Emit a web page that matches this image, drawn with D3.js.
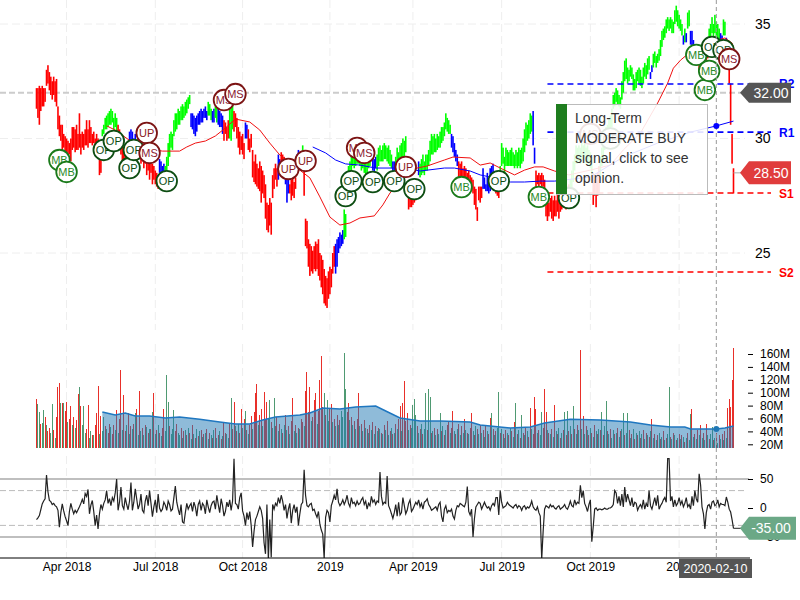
<!DOCTYPE html>
<html>
<head>
<meta charset="utf-8">
<script src="https://cdnjs.cloudflare.com/ajax/libs/d3/7.8.5/d3.min.js"></script>
<style>
html, body { margin: 0; padding: 0; background: #fff; }
svg { display: block; font-family: "Liberation Sans", Arial, sans-serif; }
</style>
</head>
<body>
<div id="chart"></div>
<script>
// price bars as [high, low], one per trading day
var priceBars = [
[32.2,31.3],[32.2,30.9],[32.3,30.6],[32.2,31.2],[32.3,31.4],[32.2,31.4],[32.2,31.6],[33.0,32.3],[33.2,32.4],[32.9,32.1],[32.7,31.9],[32.5,31.7],[32.7,31.9],[32.5,31.6],[32.6,31.4],
[31.4,30.4],[31.0,30.1],[30.6,29.9],[30.6,29.3],[30.2,29.6],[30.1,29.2],[30.0,29.4],[29.9,29.1],[29.8,29.3],[30.0,29.0],
[30.5,29.5],[30.5,29.6],[30.4,29.4],[30.6,29.5],[30.2,29.5],[31.1,29.6],[30.2,29.3],[30.3,29.6],[30.2,29.5],[30.4,29.7],
[30.8,29.7],[30.4,29.6],[30.8,29.8],[30.5,29.8],[30.2,29.7],[30.3,29.8],[30.0,29.7],[30.2,29.6],[30.0,29.8],[29.1,28.4],[29.2,28.5],
[30.4,30.1],[30.6,30.2],[30.9,30.4],[31.0,30.4],[31.1,30.5],[31.2,30.6],[31.3,30.6],[31.2,30.7],[30.9,30.4],[31.1,30.5],[30.9,30.2],
[30.6,29.9],[30.4,29.5],[30.0,29.3],[29.8,29.0],[29.6,28.9],[29.5,28.7],[29.8,28.9],[29.8,29.1],
[30.3,29.6],[30.4,29.8],[30.3,29.7],[30.0,29.3],[30.2,29.5],
[29.9,29.0],[30.0,29.1],[29.9,29.3],[29.7,28.9],[29.6,29.0],[29.5,28.7],[29.4,28.9],[29.2,28.4],[29.1,28.6],[29.2,28.2],[29.0,28.5],[28.9,28.0],[28.8,28.2],[28.6,28.0],[28.5,27.9],[28.4,27.8],
[29.1,28.5],[29.0,28.4],[28.8,28.2],[28.9,28.3],
[28.8,28.1],[29.2,28.4],[29.8,28.8],[30.2,29.2],[30.3,29.6],[30.2,29.5],
[30.8,30.1],[31.1,30.3],[31.1,30.4],[31.3,30.6],[31.2,30.6],[31.4,30.8],[31.5,30.8],[31.4,30.9],[31.6,31.0],[31.7,31.1],[31.8,31.3],[31.9,31.5],
[31.1,30.5],[31.1,30.4],[31.0,30.2],[30.9,30.1],[31.0,30.3],[31.1,30.6],[31.2,30.6],[31.3,30.7],[31.2,30.7],[31.3,30.9],[31.4,30.9],[31.2,30.8],
[31.6,31.0],[31.5,31.0],[31.3,30.8],
[31.2,30.7],[31.3,30.7],
[31.4,30.9],[31.4,30.7],
[31.3,30.6],[31.2,30.5],[31.1,30.5],[31.0,30.2],
[30.8,29.9],[30.7,30.2],[30.5,29.9],[30.8,30.0],
[31.6,30.0],[31.7,29.9],[31.6,30.4],
[31.2,30.3],[31.1,30.5],[30.9,30.0],[30.5,29.6],[30.3,29.3],[30.1,29.5],[30.2,29.3],[29.8,29.1],
[30.7,30.0],[30.6,30.0],
[30.4,29.5],[30.0,29.4],[30.2,29.6],
[29.5,28.3],[29.0,28.1],[29.3,28.0],[28.9,27.9],
[28.7,27.8],[29.0,27.7],[28.8,27.2],[28.6,27.6],[28.4,27.4],
[28.0,26.5],[27.2,26.0],[27.1,25.9],[27.4,26.2],[27.2,25.8],
[28.4,27.4],[28.7,27.8],[28.9,28.2],[28.7,27.9],
[29.3,28.2],[29.1,28.4],
[29.4,28.5],[29.3,28.4],[29.2,28.6],
[29.0,28.0],[28.8,27.2],[28.6,27.6],
[28.0,27.6],[28.2,27.3],[28.4,27.5],[28.1,27.4],[28.3,27.8],
[29.3,28.5],[29.5,28.7],[29.4,28.8],[29.4,28.9],
[29.7,29.2],
[29.5,27.5],[26.5,25.3],[26.4,25.2],
[25.6,24.4],[25.4,24.0],[25.3,24.2],[25.1,24.1],[25.3,24.3],[25.5,24.2],[25.4,24.3],[25.6,24.0],
[25.0,23.8],[24.9,23.5],[24.7,23.2],[24.3,22.8],[24.0,22.7],[23.9,22.6],
[24.2,23.0],[24.4,23.2],[24.3,23.5],[25.0,24.1],[25.3,24.4],
[25.4,24.1],[25.6,24.4],[25.7,25.0],[25.9,25.2],[25.8,25.3],[26.0,25.4],
[26.9,25.6],[26.7,25.7],
[28.4,27.5],[28.8,27.8],[29.0,28.0],[29.3,28.4],[29.6,28.8],[29.5,28.7],[29.4,28.8],[29.5,28.9],[29.6,28.9],[29.4,28.8],
[29.3,28.6],[29.4,28.7],[29.1,28.5],[29.0,28.4],[29.2,28.5],[29.3,28.7],[29.4,28.8],[29.6,29.0],
[29.2,28.6],[29.1,28.5],[29.2,28.7],
[29.3,28.6],[29.6,28.8],[29.7,29.0],[29.5,29.0],[29.7,29.0],[29.8,29.1],[29.7,29.1],[29.6,29.0],[29.7,28.9],[29.5,28.8],[29.3,28.7],
[29.0,28.5],[29.0,28.3],
[29.2,28.5],[29.6,28.7],[29.4,28.8],[29.7,29.0],[29.8,28.9],[30.0,29.0],[29.9,29.2],[30.1,29.4],
[28.0,27.5],[27.7,26.9],[27.6,27.0],[27.5,27.0],[27.7,27.1],[27.6,27.2],[27.9,27.3],[28.1,27.5],
[29.0,28.4],
[28.9,28.3],[29.1,28.4],[29.3,28.5],[29.0,28.4],[29.3,28.6],[29.3,28.6],
[29.5,28.8],[29.9,29.0],[30.2,29.3],[30.1,29.3],[30.2,29.4],[30.0,29.4],[30.2,29.5],[30.1,29.6],[30.3,29.6],[30.5,29.8],[30.5,29.9],[30.7,30.1],
[31.1,30.4],[30.9,30.3],[30.8,30.2],[30.6,30.2],
[30.2,29.6],[30.1,29.4],[29.8,29.2],[29.5,29.0],[29.3,28.8],
[29.0,27.9],[28.9,28.2],[29.0,28.3],[28.7,27.9],[28.8,28.0],[28.7,27.9],[28.5,28.0],[28.6,27.9],[28.4,27.8],[28.3,27.7],[28.2,27.6],
[27.9,27.1],[27.8,26.9],[27.0,26.4],[27.9,27.3],[27.9,27.2],[27.9,27.4],
[28.7,27.8],[28.3,27.8],[28.0,27.7],[28.5,27.7],[28.0,27.6],[28.7,27.7],[28.8,27.8],[28.9,28.2],
[28.2,27.8],[28.1,27.6],[28.0,27.5],[27.9,27.4],
[28.8,28.2],[29.8,28.8],[29.6,28.9],[29.2,28.5],[29.6,28.8],[29.5,28.8],[29.4,28.8],[29.5,28.8],[29.6,28.8],[29.4,28.8],[29.3,28.7],[29.5,28.8],[29.4,28.7],[29.6,28.8],[29.5,28.7],[29.6,28.9],
[30.0,29.0],[30.4,29.4],[30.7,29.7],[30.6,29.9],[30.8,30.0],[31.1,30.2],[31.0,30.3],
[31.2,29.7],[29.6,28.9],
[28.6,27.7],[28.4,28.0],[28.5,27.8],[28.4,28.0],[28.5,27.9],[28.4,27.9],[28.2,27.6],
[27.4,26.6],[27.6,26.4],[27.2,26.6],[27.4,26.8],[27.5,26.5],[27.3,26.4],[27.5,26.6],[27.3,26.6],[27.6,26.8],[27.4,26.5],
[27.9,26.8],[27.7,26.9],[28.0,27.0],[27.6,27.0],[27.8,26.9],[27.9,27.1],[28.0,27.2],
[28.2,27.5],[28.6,27.8],[29.0,28.1],[29.3,28.6],[29.7,28.9],[29.6,28.9],[29.7,29.0],[29.6,28.9],[29.8,29.1],[29.7,29.0],[29.8,29.2],[29.6,28.9],[29.7,29.0],[29.5,28.8],[29.4,28.7],[29.2,28.4],
[28.5,27.1],[28.2,27.5],[28.3,27.0],[28.5,27.5],[28.8,27.6],
[29.2,28.3],[29.6,28.8],[30.0,29.0],[30.4,29.5],[30.5,29.7],[30.6,30.0],[30.9,30.2],[31.0,30.3],[31.3,30.5],
[31.9,31.3],[32.0,31.4],[32.2,31.6],[32.1,31.5],[31.9,31.4],[31.8,31.3],
[32.5,31.7],[32.9,32.0],[33.4,32.5],[33.5,32.6],[33.1,32.4],[33.0,32.5],[33.2,32.7],[33.1,32.6],[32.8,32.1],[32.6,32.1],[32.9,32.2],[33.0,32.5],[33.1,32.4],[33.0,32.3],[32.7,32.2],[33.1,32.4],[33.3,32.7],[33.2,32.6],[33.5,32.8],[33.6,33.0],
[32.9,32.6],[33.2,32.9],
[33.7,33.1],[33.8,33.3],[33.6,33.1],[33.7,33.3],[33.9,33.4],
[34.3,33.6],[34.7,34.0],[34.8,34.3],[34.9,34.4],
[35.2,34.6],[35.3,34.8],[35.2,34.7],[35.3,34.8],[35.2,34.6],[35.1,34.6],
[35.6,35.0],[35.8,35.1],[35.6,34.9],[35.4,34.8],[35.2,34.7],[35.0,34.5],
[34.5,34.1],
[34.8,34.2],
[34.6,34.2],
[35.5,34.8],[35.6,34.9],
[34.7,34.1],[34.7,33.9],[34.3,33.7],[34.1,33.7],[34.0,33.7],
[33.8,33.2],[33.6,33.0],[33.5,33.0],[33.6,33.1],[33.7,33.2],[33.8,33.3],[33.9,33.4],[34.0,33.5],
[34.8,34.2],[35.0,34.4],[35.3,34.6],[35.0,34.4],[35.4,34.6],[35.1,34.4],[35.0,34.3],[34.8,34.3],
[34.6,34.1],[34.5,34.0],
[35.2,34.5],[35.1,34.5],
[34.4,34.1],
[33.9,33.2],[33.0,32.4],[32.4,30.6],[30.2,28.9],[28.7,27.6]
];

var runColors = ["red","green","red","blue","red","blue","green","blue","green","blue","green","blue","red","green","red","blue","red","blue","red","blue","red","blue","green","red","blue","green","blue","green","blue","green","red","blue","green","blue","red","blue","red","green","blue","red","green","red","green","blue","green","blue","green","blue","green","blue","red","green","blue","green","blue","red"];
var runLengths = [46,11,8,5,16,4,18,12,3,2,2,4,4,3,8,2,21,2,3,3,5,4,1,22,6,20,3,11,2,8,8,1,22,5,17,8,4,23,2,24,16,5,35,2,21,1,1,1,2,5,8,8,2,2,1,5];

// volume in millions, negative = down day
var volumes = [
-90,82,70,-52,53,73,-62,50,-40,-45,38,82,-42,30,-62,-109,-115,84,-84,84,
-72,-86,55,-60,-79,50,-62,45,-58,-98,109,-80,50,80,38,-44,-81,30,40,-35,
34,-50,-69,-111,36,-64,40,62,-48,44,-38,-52,47,-36,-50,42,-73,38,-60,-135,
42,-96,-40,50,-68,36,-48,44,-52,68,-74,35,-102,40,-46,34,-50,47,-38,44,
-44,70,-100,36,-42,50,-38,33,-46,-75,40,127,86,-48,36,44,73,-40,-52,38,
35,-46,30,-40,42,-34,45,-38,28,-50,36,-30,44,-33,40,-42,31,-36,38,-44,
28,-38,34,-30,42,-46,29,-35,40,-28,33,-54,-38,36,30,-52,92,-44,-86,48,
-40,52,-38,-75,46,-60,72,-42,36,-50,-64,44,-70,-99,-113,50,-66,-75,48,-101,
-58,-85,60,88,-54,46,92,-48,-62,40,-52,44,-38,50,-65,42,-48,36,-56,-92,
40,-50,38,-46,44,-60,-54,48,-102,-132,-70,-109,56,-62,-88,-99,52,-72,-120,-157,
-78,99,-66,88,56,-74,-82,54,-60,48,-66,50,-58,72,62,161,105,-70,-84,58,
-62,50,-56,44,-60,-99,48,-52,40,-58,46,-44,38,-50,42,-54,36,-48,40,-46,
44,-38,36,-50,42,-56,34,-40,46,-36,38,-52,44,-60,-80,40,-84,-118,-56,-68,
42,-50,46,81,90,66,-48,38,-44,52,-36,44,99,-42,105,93,-38,40,-46,34,
-44,36,69,-40,48,-34,42,-50,-56,38,-46,-71,40,-36,44,-52,34,-48,38,-60,
42,-38,36,-46,-69,40,-34,48,-44,36,-50,38,-42,32,-48,40,-36,-61,69,-44,
34,-40,46,101,-38,44,-36,30,-42,38,-34,46,-40,32,-54,84,-36,42,-30,65,
-38,34,-46,40,-32,-77,44,-36,-94,-75,38,-42,34,70,-46,-105,-70,42,-38,36,
-44,32,-81,40,-36,46,-30,38,-42,70,-34,72,-40,48,-36,79,-44,36,-50,42,
-166,44,-64,36,-48,42,-34,46,-38,32,-50,40,-36,44,-42,70,-34,48,87,-40,
36,-44,30,42,-36,38,-46,32,-40,44,68,-34,38,68,-42,30,-36,44,-28,38,
-34,40,-30,36,-42,28,-38,34,-32,40,-60,30,-36,26,-34,38,-28,32,-40,26,
-30,36,109,-32,28,-38,34,-26,30,-36,28,-34,32,-24,30,-38,26,67,-75,32,
-36,28,-42,34,-50,30,-38,26,-52,34,-28,36,47,-26,30,-38,22,-34,28,-36,
26,-40,30,-77,-90,-78,-120,-169
];

var oscillator = [
-20,-17,-13,-3,7,12,16,57,28,13,11,6,8,4,2,-4,-33,-8,7,-5,
-15,-22,-30,-6,8,-2,-10,-4,-8,-3,2,8,15,7,25,20,32,-10,5,13,
-6,-30,-12,-36,-10,6,-2,8,14,30,8,16,4,18,12,26,50,-4,10,36,
4,-2,18,6,-3,12,44,-4,10,33,16,-2,6,24,-4,-8,12,22,4,30,
8,-15,2,14,-8,24,0,-6,-2,10,5,-4,12,6,-5,-2,18,38,10,-2,
-12,6,-24,-26,-8,8,-2,4,8,-6,10,2,-14,6,12,-4,8,4,-10,14,
2,-8,4,10,12,-2,22,6,-8,16,4,-14,-6,10,2,14,-4,12,85,8,
6,-2,18,26,-5,-14,-30,-8,-20,-6,-30,-67,-40,-20,-14,-6,2,-4,-18,-60,
-79,6,-90,-20,-85,6,-2,8,4,18,8,22,12,-4,6,-18,-2,8,-26,-4,
6,-8,2,-30,-10,6,10,66,22,4,2,6,8,-4,-2,-10,-16,-6,-28,-38,
-45,-87,-16,-4,-8,-24,4,12,22,14,33,10,4,8,14,6,12,22,8,2,
18,8,10,4,12,6,8,14,18,6,12,-2,8,4,20,10,14,6,12,10,
62,20,6,10,8,55,4,-2,-10,-18,-8,6,-14,10,-12,-8,18,4,-10,-4,
8,14,-6,-2,4,10,6,14,2,8,-2,10,12,16,6,2,-4,-2,0,2,
-4,6,10,-14,-24,-2,4,-8,-4,-6,-2,-14,-19,-4,4,2,8,6,4,2,
10,37,-6,-12,-2,-50,-18,2,6,10,8,-2,4,10,4,0,2,-4,4,8,
4,18,18,-12,30,10,0,2,4,10,6,4,2,0,4,6,0,4,2,-4,
2,4,-2,2,0,4,12,2,-2,-4,2,-8,-14,-88,-40,-2,4,2,0,6,
2,4,0,-2,2,4,-2,0,2,6,0,-2,4,12,4,2,14,6,10,8,
39,18,30,8,2,-6,6,14,-58,-32,-2,0,-4,-2,-2,-3,-2,0,-2,-2,
0,0,2,6,30,26,8,20,4,24,2,36,10,24,14,4,18,2,10,8,
-4,2,6,0,14,-2,8,2,30,4,-2,8,18,4,22,-2,4,8,14,18,
10,85,85,12,20,2,14,4,8,18,6,12,2,8,18,2,6,-2,20,4,
30,16,10,59,40,2,-10,-36,-8,4,6,-2,10,12,4,6,14,2,8,6,
6,4,19,10,-2,-7,-20,-35
];

// moving averages as [day index, price]
var fastMa = [[49,30.55],[55,30.37],[72,29.6],[88,29.45],[100,29.45],[105,29.63],[111,29.8],[118,29.89],[125,30.11],[132,30.46],[139,30.85],[149,30.72],[156,30.37],[163,29.8],[170,29.28],[177,28.93],[184,28.62],[191,28.28],[198,27.45],[205,26.57],[212,26.22],[219,26.31],[226,26.53],[236,26.62],[242,27.1],[247,27.62],[257,28.32],[266,28.71],[273,28.8],[285,29.06],[291,29.19],[303,29.15],[310,28.84],[317,28.93],[324,28.71],[334,28.41],[341,28.62],[348,28.76],[354,28.76],[362,28.58],[372,28.41],[387,28.62],[401,28.84],[410,29.5],[422,30.24],[434,31.55],[441,32.42],[445,33.07],[450,33.42],[460,33.95],[471,34.21],[481,34.39],[486,34.17],[487,33.95]];
var slowMa = [[193,29.63],[202,29.37],[209,29.06],[216,28.89],[226,28.84],[237,28.71],[247,28.71],[258,28.71],[268,28.58],[285,28.71],[292,28.71],[303,28.58],[310,28.41],[320,28.28],[331,28.1],[341,28.1],[352,28.14],[362,28.14],[387,28.32],[410,29.19],[434,29.8],[457,30.28],[469,30.46],[475,30.55],[487,30.76]];
var volumeMa = [[46,70],[55,65.5],[62,68.6],[69,64],[79,64],[90,60.8],[100,62.4],[114,59],[128,54.6],[139,51.5],[149,51.5],[158,57.7],[167,62.4],[184,65.5],[191,68.6],[200,76.3],[212,74.8],[223,77.9],[237,79.4],[244,71.7],[254,60.8],[268,56],[282,56],[303,54.6],[310,50],[331,45.3],[345,46.9],[355,53],[373,59],[394,57.7],[415,54.6],[429,50],[443,46.9],[453,46.9],[457,43.8],[474,43.8],[475,43.8],[481,45.3],[487,48.4]];

// signal markers
var markerTypes = ["MB","MB","OP","OP","OP","OP","UP","MS","OP","MS","MS","UP","UP","OP","OP","MS","MS","OP","OP","UP","OP","MB","OP","MB","OP","MS","OP","MB","MB","MB","OP","OP","MS"];
var markerDays = [16,21,47,54,65,68,77,79,91,131,139,176,188,216,220,224,229,235,250,258,264,297,323,351,372,387,401,461,467,470,472,480,484];
var markerPrices = [29.06,28.54,29.5,29.89,28.71,29.5,30.24,29.37,28.14,31.68,31.94,28.67,29.02,27.49,28.14,29.59,29.37,28.1,28.14,28.76,27.79,27.88,28.14,27.45,27.4,30.2,30.0,33.65,32.12,32.95,34.0,33.86,33.47];

var tickDays = [21,83,144,205,263,325,387,449];
var tickLabels = ["Apr 2018","Jul 2018","Oct 2018","2019","Apr 2019","Jul 2019","Oct 2019","2020"];
var priceTicks = [25,30,35];
var volumeTicks = [20,40,60,80,100,120,140,160];
var oscTicks = [-50,0,50];
var oscBands = [30,-30];
var oscLimits = [50,-50];
var levelNames = ["R2","R1","S1","S2"];
var levelValues = [32.38,30.28,27.62,24.17];
var tooltipLines = ["Long-Term","MODERATE BUY","signal, click to see","opinion."];

var cursorDay = 475, cursorDate = "2020-02-10";
var lastPrice = 28.5, refPrice = 32, lastOsc = -35, levelStartDay = 357;

var width = 800, height = 600;
var green = "#00ff00", red = "#ff0000", blue = "#0000ff";
var colorOf = { red: red, green: green, blue: blue };

var x = d3.scaleLinear().domain([0, priceBars.length - 1]).range([36.5, 733.5]);
var yPrice = d3.scaleLinear().domain([25, 35]).range([253, 24]);
var yVol = d3.scaleLinear().domain([20, 160]).range([444.3, 354]);
var yOsc = d3.scaleLinear().domain([-50, 50]).range([537, 479]);
var volBase = 448;

var svg = d3.select("#chart").append("svg")
    .attr("width", width)
    .attr("height", height);

// clip for the oscillator, spikes get cut at the date axis
svg.append("clipPath").attr("id", "osc-clip")
  .append("rect").attr("x", 0).attr("y", 450).attr("width", width).attr("height", 108);

// grid
var grid = svg.append("g");
tickDays.forEach(function (d) {
    [[0, 330], [344, 448], [456, 558]].forEach(function (r) {
        grid.append("line")
            .attr("x1", x(d)).attr("x2", x(d))
            .attr("y1", r[0]).attr("y2", r[1])
            .attr("stroke", "#eee")
            .attr("stroke-dasharray", "8,4");
    });
});
priceTicks.forEach(function (p) {
    grid.append("line")
        .attr("x1", 0).attr("x2", 745)
        .attr("y1", yPrice(p)).attr("y2", yPrice(p))
        .attr("stroke", "#eee")
        .attr("stroke-dasharray", "8,4");
});

// reference price line
svg.append("line")
    .attr("x1", 0).attr("x2", 748)
    .attr("y1", yPrice(refPrice)).attr("y2", yPrice(refPrice))
    .attr("stroke", "#ccc")
    .attr("stroke-width", 2)
    .attr("stroke-dasharray", "6,3");

// price bars, coloured per run
var barColors = [];
runColors.forEach(function (c, i) {
    for (var k = 0; k < runLengths[i]; k++) barColors.push(colorOf[c]);
});
svg.append("g").selectAll("rect")
    .data(priceBars)
    .enter().append("rect")
    .attr("x", function (d, i) { return x(i) - 0.8; })
    .attr("width", 1.6)
    .attr("y", function (d) { return yPrice(d[0]); })
    .attr("height", function (d) { return yPrice(d[1]) - yPrice(d[0]); })
    .attr("fill", function (d, i) { return barColors[i]; });

// moving averages
var maLine = d3.line()
    .x(function (d) { return x(d[0]); })
    .y(function (d) { return yPrice(d[1]); });
svg.append("path").attr("d", maLine(fastMa))
    .attr("fill", "none").attr("stroke", "#f01010").attr("stroke-width", 1);
svg.append("path").attr("d", maLine(slowMa))
    .attr("fill", "none").attr("stroke", blue).attr("stroke-width", 1);

// support / resistance
levelNames.forEach(function (name, i) {
    var c = name[0] === "R" ? blue : red;
    svg.append("line")
        .attr("x1", x(levelStartDay)).attr("x2", 771)
        .attr("y1", yPrice(levelValues[i])).attr("y2", yPrice(levelValues[i]))
        .attr("stroke", c)
        .attr("stroke-width", 1.6)
        .attr("stroke-dasharray", "6,4");
    svg.append("text")
        .attr("x", 779).attr("y", yPrice(levelValues[i]) + 4.5)
        .attr("font-size", 12).attr("font-weight", "bold")
        .attr("fill", c)
        .text(name);
});

// markers
var markerStyle = {
    MB: ["#1a7a1a", "#2a8a2a"],
    OP: ["#0d4d12", "#0d4d12"],
    UP: ["#7c1414", "#8b1a1a"],
    MS: ["#7c1414", "#8b2030"]
};
var marker = svg.append("g").selectAll("g")
    .data(markerTypes)
    .enter().append("g")
    .attr("transform", function (d, i) {
        return "translate(" + x(markerDays[i]) + "," + yPrice(markerPrices[i]) + ")";
    });
marker.append("circle")
    .attr("r", 10.3)
    .attr("fill", "#fff")
    .attr("stroke", function (d) { return markerStyle[d][0]; })
    .attr("stroke-width", 1.8);
marker.append("text")
    .attr("text-anchor", "middle")
    .attr("dy", 4)
    .attr("font-size", 11)
    .attr("fill", function (d) { return markerStyle[d][1]; })
    .text(function (d) { return d; });

// price axis
var priceAxis = svg.append("g")
    .attr("transform", "translate(750,0)")
    .call(d3.axisRight(yPrice).tickValues(priceTicks).tickSize(0).tickPadding(5));
priceAxis.select(".domain").remove();
priceAxis.selectAll("text").attr("font-size", 14).attr("font-family", null).attr("fill", "#000");

// volume bars and average
svg.append("g").selectAll("rect")
    .data(volumes)
    .enter().append("rect")
    .attr("x", function (d, i) { return x(i) - 0.5; })
    .attr("width", 1)
    .attr("y", function (d) { return yVol(Math.abs(d)); })
    .attr("height", function (d) { return Math.max(0, volBase - yVol(Math.abs(d))); })
    .attr("fill", function (d) { return d < 0 ? "#e8302a" : "#4f9a72"; })
    .attr("shape-rendering", "crispEdges");
svg.append("path")
    .attr("d", d3.area()
        .x(function (d) { return x(d[0]); })
        .y0(volBase)
        .y1(function (d) { return yVol(d[1]); })(volumeMa))
    .attr("fill", "#1f77b4")
    .attr("fill-opacity", 0.5);
svg.append("path")
    .attr("d", d3.line()
        .x(function (d) { return x(d[0]); })
        .y(function (d) { return yVol(d[1]); })(volumeMa))
    .attr("fill", "none")
    .attr("stroke", "#1f77c0")
    .attr("stroke-width", 1.5);

var volAxis = svg.append("g")
    .attr("transform", "translate(748,0)")
    .call(d3.axisRight(yVol).tickValues(volumeTicks).tickSize(5).tickPadding(7)
        .tickFormat(function (d) { return d + "M"; }));
volAxis.select(".domain").remove();
volAxis.selectAll("text").attr("font-size", 12).attr("font-family", null).attr("fill", "#000");

// oscillator
oscLimits.forEach(function (v) {
    svg.append("line")
        .attr("x1", 0).attr("x2", 749)
        .attr("y1", yOsc(v)).attr("y2", yOsc(v))
        .attr("stroke", "#aaa").attr("stroke-width", 1.6);
});
oscBands.forEach(function (v) {
    svg.append("line")
        .attr("x1", 0).attr("x2", 747)
        .attr("y1", yOsc(v)).attr("y2", yOsc(v))
        .attr("stroke", "#bbb")
        .attr("stroke-dasharray", "6,3");
});
svg.append("path")
    .attr("clip-path", "url(#osc-clip)")
    .attr("d", d3.line()
        .x(function (d, i) { return x(i); })
        .y(function (d) { return yOsc(d); })(oscillator))
    .attr("fill", "none")
    .attr("stroke", "#222")
    .attr("stroke-width", 1.2);

var oscAxis = svg.append("g")
    .attr("transform", "translate(748,0)")
    .call(d3.axisRight(yOsc).tickValues(oscTicks).tickSize(5).tickPadding(7));
oscAxis.select(".domain").remove();
oscAxis.selectAll("text").attr("font-size", 12).attr("font-family", null).attr("fill", "#000");

// date axis
svg.append("line")
    .attr("x1", 0).attr("x2", 750)
    .attr("y1", 558).attr("y2", 558)
    .attr("stroke", "#000");
var dateAxis = svg.append("g")
    .attr("transform", "translate(0,558)")
    .call(d3.axisBottom(x).tickValues(tickDays).tickSize(0).tickPadding(4)
        .tickFormat(function (d, i) { return tickLabels[i]; }));
dateAxis.select(".domain").remove();
dateAxis.selectAll("text").attr("font-size", 12).attr("font-family", null).attr("fill", "#000");

// tooltip, slightly see-through so the bars show behind it
var tip = svg.append("g").attr("transform", "translate(556,104)");
tip.append("rect")
    .attr("x", 0.5).attr("y", 0.5)
    .attr("width", 151).attr("height", 90)
    .attr("fill", "#fff")
    .attr("fill-opacity", 0.88)
    .attr("stroke", "#bbb");
tip.append("rect")
    .attr("width", 11).attr("height", 90)
    .attr("fill", "#1e7d1e");
tip.selectAll("text.line")
    .data(tooltipLines)
    .enter().append("text")
    .attr("class", "line")
    .attr("x", 19)
    .attr("y", function (d, i) { return 19 + i * 20; })
    .attr("font-size", 14)
    .attr("fill", "#333")
    .text(function (d) { return d; });

// crosshair and its dots
svg.append("line")
    .attr("x1", x(cursorDay)).attr("x2", x(cursorDay))
    .attr("y1", 0).attr("y2", 560)
    .attr("stroke", "#999")
    .attr("stroke-dasharray", "4,3");
svg.append("circle")
    .attr("cx", x(cursorDay))
    .attr("cy", yPrice(slowMa.find(function (d) { return d[0] === cursorDay; })[1]))
    .attr("r", 3).attr("fill", blue);
svg.append("circle")
    .attr("cx", x(cursorDay))
    .attr("cy", yVol(volumeMa.find(function (d) { return d[0] === cursorDay; })[1]))
    .attr("r", 3).attr("fill", "#1f77b4");

// value tags on the right
function tag(y, label, fill, h, lead, right) {
    svg.append("line")
        .attr("x1", x(priceBars.length - 1)).attr("x2", 742)
        .attr("y1", y).attr("y2", y)
        .attr("stroke", lead);
    svg.append("path")
        .attr("d", "M740," + y + "L749," + (y - h / 2) + "H" + right + "V" + (y + h / 2) + "H749Z")
        .attr("fill", fill);
    svg.append("text")
        .attr("x", 771).attr("y", y + 5)
        .attr("text-anchor", "middle")
        .attr("font-size", 14)
        .attr("fill", "#fff")
        .text(label);
}
tag(yPrice(lastPrice), lastPrice.toFixed(2), "#e03c3c", 23, "#aaa", 791);
tag(yPrice(refPrice), refPrice.toFixed(2), "#555", 20, "none", 791);
tag(yOsc(lastOsc), lastOsc.toFixed(2), "#6ba886", 23, "#222", 796);

// date tag under the crosshair
svg.append("rect")
    .attr("x", 679).attr("y", 559)
    .attr("width", 73).attr("height", 19)
    .attr("fill", "#555");
svg.append("text")
    .attr("x", 715.5).attr("y", 573)
    .attr("text-anchor", "middle")
    .attr("font-size", 12.5)
    .attr("fill", "#fff")
    .text(cursorDate);
</script>
</body>
</html>
